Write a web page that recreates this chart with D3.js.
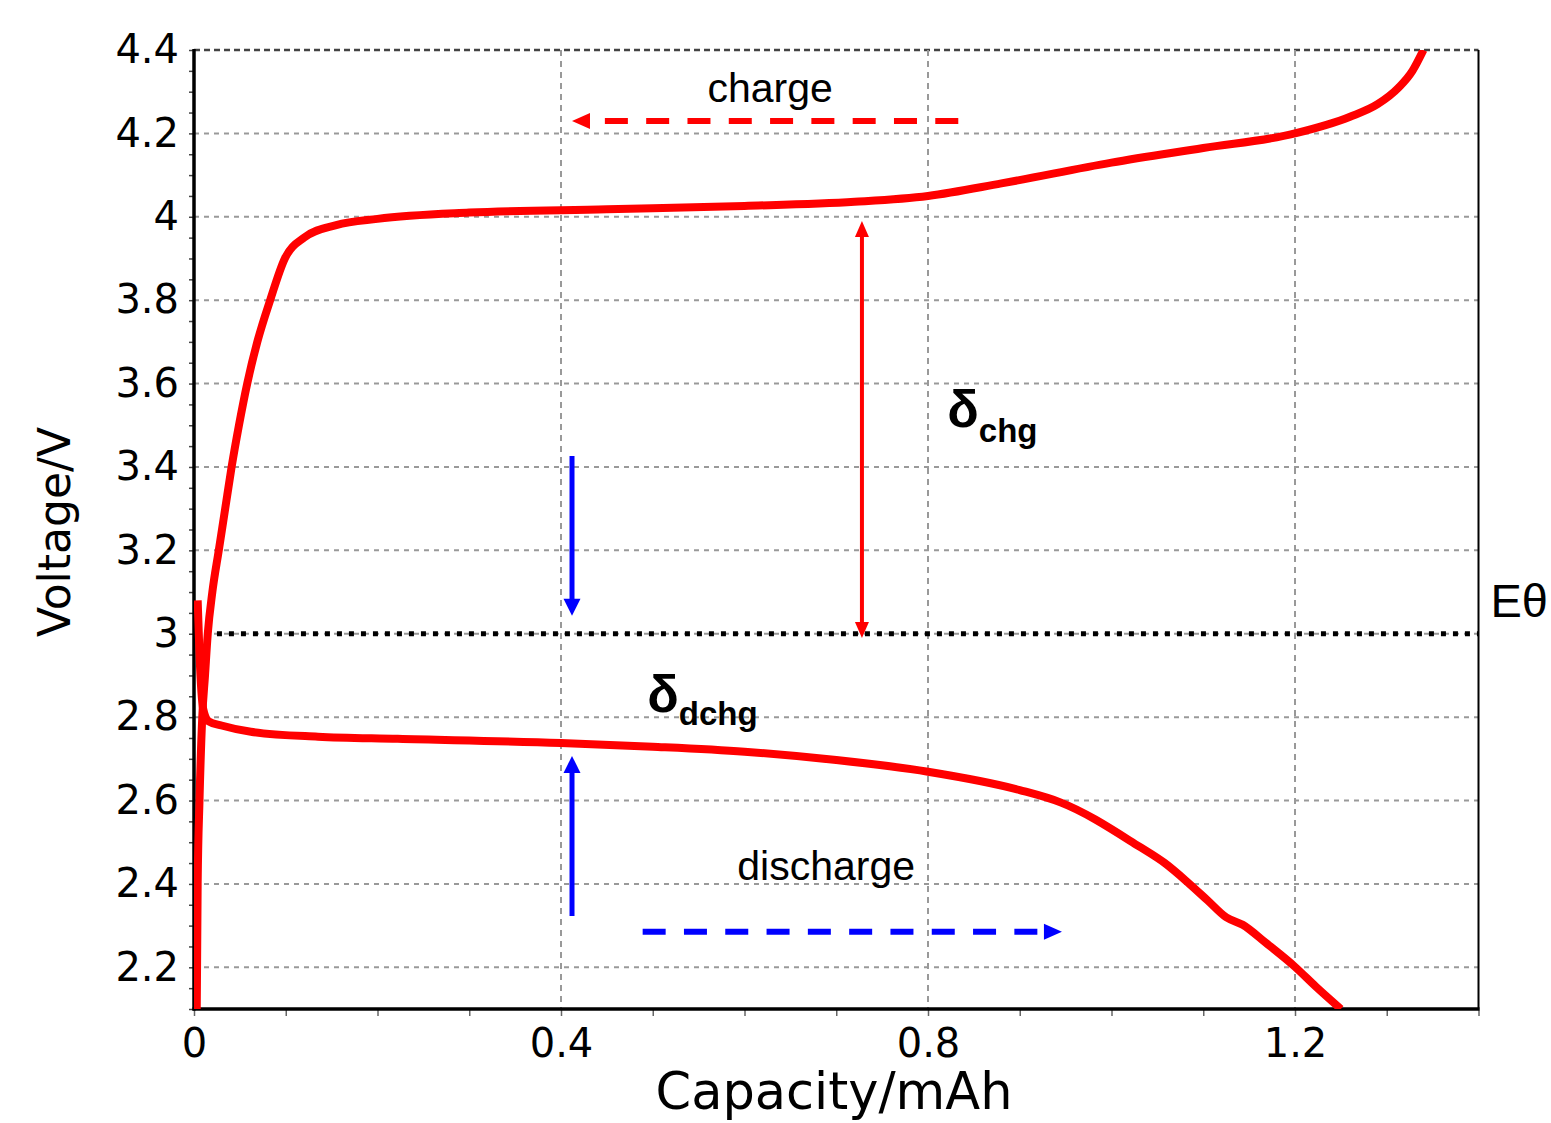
<!DOCTYPE html>
<html>
<head>
<meta charset="utf-8">
<script src="https://cdn.jsdelivr.net/npm/d3@7"></script>
<style>
  body { margin: 0; background: #fff; }
  .tick text { font-family: "DejaVu Sans", sans-serif; fill: #000; }
  .note { font-family: "Liberation Sans", Arial, sans-serif; }
</style>
</head>
<body>
<div id="chart"></div>
<script>
// values
var chargeCap  = [0.003, 0.004, 0.006, 0.009, 0.012, 0.015, 0.02, 0.027, 0.034, 0.041, 0.049, 0.058, 0.069, 0.083, 0.099, 0.12, 0.155, 0.2, 0.3, 0.45, 0.6, 0.72, 0.8, 0.88, 1.0, 1.1, 1.2, 1.26, 1.29, 1.313, 1.328, 1.34];
var chargeVolt = [2.1, 2.4, 2.6, 2.8, 2.9, 3.0, 3.1, 3.2, 3.3, 3.4, 3.5, 3.6, 3.7, 3.8, 3.9, 3.95, 3.98, 3.995, 4.01, 4.018, 4.026, 4.036, 4.05, 4.08, 4.13, 4.165, 4.2, 4.24, 4.27, 4.31, 4.35, 4.4];

var dischargeCap  = [0.004, 0.006, 0.01, 0.016, 0.03, 0.062, 0.135, 0.222, 0.4, 0.5, 0.6, 0.7, 0.8, 0.9, 0.945, 1.03, 1.058, 1.085, 1.105, 1.125, 1.143, 1.168, 1.2, 1.223, 1.25];
var dischargeVolt = [3.08, 2.95, 2.82, 2.79, 2.78, 2.765, 2.753, 2.748, 2.738, 2.729, 2.717, 2.697, 2.669, 2.625, 2.595, 2.49, 2.45, 2.4, 2.36, 2.32, 2.302, 2.259, 2.201, 2.153, 2.1];

var yTicks = [2.2, 2.4, 2.6, 2.8, 3, 3.2, 3.4, 3.6, 3.8, 4, 4.2, 4.4];
var xTicks = [0, 0.4, 0.8, 1.2];
var xGrid = [0.4, 0.8, 1.2];
var eTheta = 3.0;

// annotation values, in data units
var chgArrow = {x: 0.728, from: 2.99, to: 3.99};
var dnArrow = {x: 0.412, from: 3.426, to: 3.043};
var upArrow = {x: 0.412, from: 2.323, to: 2.707};
var chargeDir = {y: 4.23, from: 0.833, to: 0.412};
var dischargeDir = {y: 2.285, from: 0.489, to: 0.946};

var margin = {top: 50, right: 1551 - 1478.5, bottom: 1123 - 1009, left: 194}
  , width = 1551 - margin.left - margin.right
  , height = 1123 - margin.top - margin.bottom;

var xScale = d3.scaleLinear().domain([0, 1.4]).range([0, width]);
var yScale = d3.scaleLinear().domain([2.1, 4.4]).range([height, 0]);

var svg = d3.select("#chart").append("svg")
    .attr("width", 1551)
    .attr("height", 1123)
  .append("g")
    .attr("transform", "translate(" + margin.left + "," + margin.top + ")");

svg.append("clipPath").attr("id", "plot")
  .append("rect").attr("width", width).attr("height", height);

// grid
svg.selectAll(".hgrid").data(yTicks).enter().append("line")
    .attr("x1", 0).attr("x2", width)
    .attr("y1", d => yScale(d)).attr("y2", d => yScale(d))
    .attr("stroke", d => d == 4.4 ? "#444" : "#999")
    .attr("stroke-width", d => d == 4.4 ? 2.5 : 2)
    .attr("stroke-dasharray", d => d == 4.4 ? "6,4" : "5,5");

svg.selectAll(".vgrid").data(xGrid).enter().append("line")
    .attr("x1", d => xScale(d)).attr("x2", d => xScale(d))
    .attr("y1", 0).attr("y2", height)
    .attr("stroke", "#999")
    .attr("stroke-width", 2)
    .attr("stroke-dasharray", "6,5");

// minor ticks
svg.append("g")
    .call(d3.axisLeft(yScale).tickValues(d3.range(2.1, 4.41, 0.05)).tickSize(5).tickFormat(""))
    .call(g => g.select(".domain").remove())
    .selectAll("line").attr("stroke", "#444").attr("stroke-width", 1.5);

svg.append("g")
    .attr("transform", "translate(0," + height + ")")
    .call(d3.axisBottom(xScale).tickValues(d3.range(0, 1.41, 0.1)).tickSize(7).tickFormat(""))
    .call(g => g.select(".domain").remove())
    .selectAll("line").attr("stroke", "#666").attr("stroke-width", 1.5);

// tick labels
svg.append("g")
    .call(d3.axisLeft(yScale).tickValues(yTicks).tickSize(0).tickPadding(15).tickFormat(d => String(d)))
    .call(g => g.select(".domain").remove())
    .selectAll("text").attr("font-size", 40);

svg.append("g")
    .attr("transform", "translate(0," + height + ")")
    .call(d3.axisBottom(xScale).tickValues(xTicks).tickSize(0).tickPadding(20).tickFormat(d => String(d)))
    .call(g => g.select(".domain").remove())
    .selectAll("text").attr("font-size", 40);

// frame
svg.append("line").attr("x1", width).attr("x2", width).attr("y1", 0).attr("y2", height)
    .attr("stroke", "#000").attr("stroke-width", 2);
svg.append("line").attr("x1", 0).attr("x2", 0).attr("y1", -1).attr("y2", height + 1.5)
    .attr("stroke", "#000").attr("stroke-width", 3.5);
svg.append("line").attr("x1", -1.5).attr("x2", width + 1).attr("y1", height).attr("y2", height)
    .attr("stroke", "#000").attr("stroke-width", 3.5);

// axis titles
svg.append("text")
    .attr("x", 834 - margin.left).attr("y", 1109 - margin.top)
    .attr("text-anchor", "middle")
    .attr("font-family", "DejaVu Sans, sans-serif")
    .attr("font-size", 51)
    .text("Capacity/mAh");

svg.append("text")
    .attr("transform", "translate(" + (70 - margin.left) + "," + (532 - margin.top) + ") rotate(-90)")
    .attr("text-anchor", "middle")
    .attr("font-family", "DejaVu Sans, sans-serif")
    .attr("font-size", 44)
    .text("Voltage/V");

// E theta line
svg.append("line")
    .attr("x1", xScale(0.025)).attr("x2", width)
    .attr("y1", yScale(eTheta)).attr("y2", yScale(eTheta))
    .attr("stroke", "#000").attr("stroke-width", 5)
    .attr("stroke-dasharray", "5,7");

// curves
var line = d3.line()
    .x(function(d) { return xScale(d[0]); })
    .y(function(d) { return yScale(d[1]); })
    .curve(d3.curveMonotoneX);

var curves = svg.append("g").attr("clip-path", "url(#plot)");
curves.append("path")
    .datum(d3.zip(dischargeCap, dischargeVolt))
    .attr("d", line)
    .attr("fill", "none").attr("stroke", "#ff0000").attr("stroke-width", 8)
    .attr("stroke-linejoin", "round");
curves.append("path")
    .datum(d3.zip(chargeCap, chargeVolt))
    .attr("d", line)
    .attr("fill", "none").attr("stroke", "#ff0000").attr("stroke-width", 8)
    .attr("stroke-linejoin", "round");

// arrows
function arrowHead(x, y, dx, dy, len, half, color) {
  // tip at (x,y), pointing along (dx,dy)
  var bx = x - dx * len, by = y - dy * len;
  var px = -dy * half, py = dx * half;
  svg.append("path")
      .attr("d", "M" + x + "," + y + "L" + (bx + px) + "," + (by + py) + "L" + (bx - px) + "," + (by - py) + "Z")
      .attr("fill", color);
}

function vArrow(a, color, w, len, half, both) {
  var x = xScale(a.x), y0 = yScale(a.from), y1 = yScale(a.to);
  var dir = y1 > y0 ? 1 : -1;
  svg.append("line")
      .attr("x1", x).attr("x2", x)
      .attr("y1", both ? y0 + dir * (len - 2) : y0).attr("y2", y1 - dir * (len - 2))
      .attr("stroke", color).attr("stroke-width", w);
  arrowHead(x, y1, 0, dir, len, half, color);
  if (both) arrowHead(x, y0, 0, -dir, len, half, color);
}

vArrow(chgArrow, "#ff0000", 4, 16, 7, true);
vArrow(dnArrow, "#0000ff", 5, 17, 8.5, false);
vArrow(upArrow, "#0000ff", 5, 17, 8.5, false);

function hDashArrow(a, color) {
  var y = yScale(a.y), x0 = xScale(a.from), x1 = xScale(a.to);
  var dir = x1 > x0 ? 1 : -1;
  svg.append("line")
      .attr("x1", x0).attr("x2", x1 - dir * 18)
      .attr("y1", y).attr("y2", y)
      .attr("stroke", color).attr("stroke-width", 6)
      .attr("stroke-dasharray", "23,18.3");
  arrowHead(x1, y, dir, 0, 18, 8, color);
}

hDashArrow(chargeDir, "#ff0000");
hDashArrow(dischargeDir, "#0000ff");

// labels
svg.append("text").attr("class", "note")
    .attr("x", xScale(0.628)).attr("y", yScale(4.275))
    .attr("text-anchor", "middle").attr("font-size", 41)
    .text("charge");

svg.append("text").attr("class", "note")
    .attr("x", xScale(0.689)).attr("y", yScale(2.41))
    .attr("text-anchor", "middle").attr("font-size", 41)
    .text("discharge");

var dchg = svg.append("text").attr("class", "note")
    .attr("x", xScale(0.821)).attr("y", yScale(3.496))
    .attr("font-weight", "bold");
dchg.append("tspan").attr("font-size", 52).text("δ");
dchg.append("tspan").attr("font-size", 33).attr("dy", 15).text("chg");

var ddchg = svg.append("text").attr("class", "note")
    .attr("x", xScale(0.494)).attr("y", yScale(2.812))
    .attr("font-weight", "bold");
ddchg.append("tspan").attr("font-size", 52).text("δ");
ddchg.append("tspan").attr("font-size", 33).attr("dy", 13).text("dchg");

svg.append("text").attr("class", "note")
    .attr("x", xScale(1.413)).attr("y", yScale(3.04))
    .attr("font-size", 47)
    .text("Eθ");
</script>
</body>
</html>
